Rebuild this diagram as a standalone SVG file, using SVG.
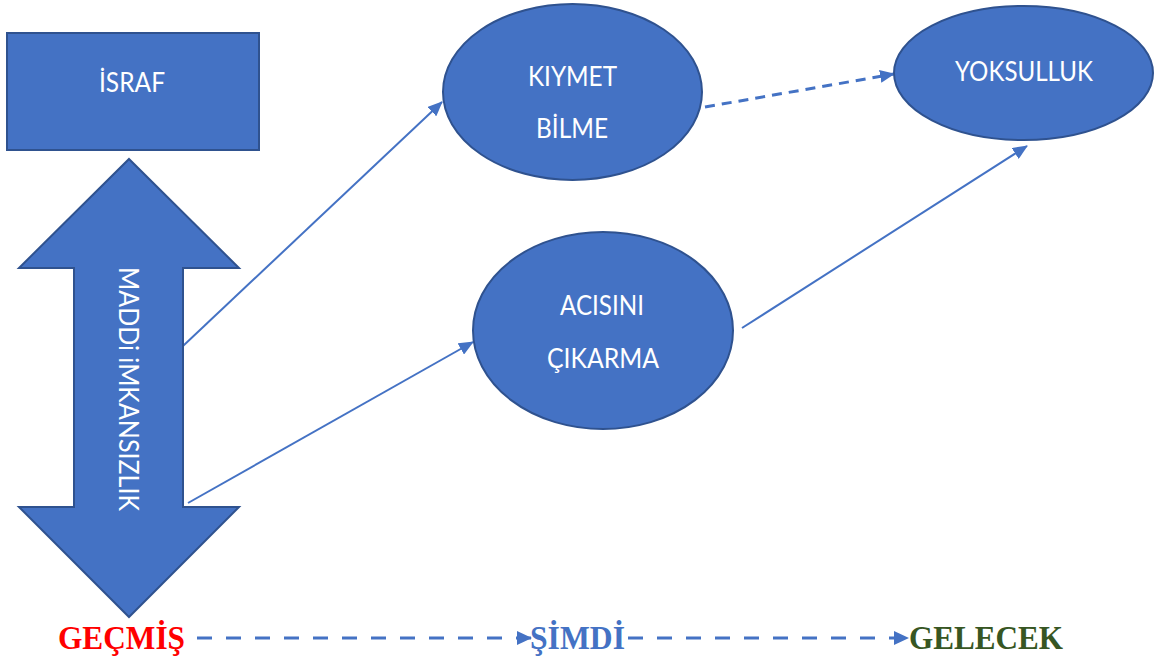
<svg xmlns="http://www.w3.org/2000/svg" width="1158" height="662" viewBox="0 0 1158 662">
  <defs>
    <style>
      .shape { fill: #4472C4; stroke: #2F528F; stroke-width: 2; }
      .lbl { fill: #FFFFFF; font-family: Lato, "Open Sans", "Liberation Sans", sans-serif; font-size: 26px; text-anchor: middle; }
      .conn { stroke: #4472C4; stroke-width: 2; fill: none; }
      .dash1 { stroke-width: 3; stroke-dasharray: 10 7; }
      .dash2 { stroke-width: 3; stroke-dasharray: 15 14; }
      .time { font-family: "Liberation Serif", "Times New Roman", serif; font-weight: bold; font-size: 33px; }
    </style>
    <marker id="ah" markerUnits="userSpaceOnUse" markerWidth="15" markerHeight="13" refX="14" refY="6.5" orient="auto">
      <path d="M0,0 L15,6.5 L0,13 z" fill="#4472C4"/>
    </marker>
    <marker id="ahs" markerUnits="userSpaceOnUse" markerWidth="15" markerHeight="14" refX="15" refY="7" orient="auto">
      <path d="M0,0 L15,7 L0,14 z" fill="#4472C4"/>
    </marker>
  </defs>

  <g id="connectors">
    <line class="conn" x1="183" y1="346" x2="442" y2="102" marker-end="url(#ah)"/>
    <line class="conn" x1="188" y1="503" x2="473" y2="342" marker-end="url(#ah)"/>
    <line class="conn dash1" x1="705" y1="107" x2="894" y2="74" marker-end="url(#ah)"/>
    <line class="conn" x1="742" y1="328" x2="1027" y2="146" marker-end="url(#ah)"/>
    <line class="conn dash2" x1="197" y1="638" x2="532" y2="638" marker-end="url(#ahs)"/>
    <line class="conn dash2" x1="628" y1="638" x2="909" y2="638" marker-end="url(#ahs)"/>
  </g>

  <g id="israf">
    <rect class="shape" x="7" y="33" width="252" height="117"/>
    <text class="lbl" x="132" y="92" textLength="66" lengthAdjust="spacingAndGlyphs">İSRAF</text>
  </g>

  <g id="maddi-imkansizlik">
    <polygon class="shape" stroke-width="1.5" points="129,159 239,268 183,268 183,507 239,507 129,617 19,507 74,507 74,268 19,268"/>
    <text class="lbl" transform="translate(119,389) rotate(90)" x="0" y="0" textLength="244" lengthAdjust="spacingAndGlyphs">MADDi iMKANSIZLIK</text>
  </g>

  <g id="kiymet-bilme">
    <ellipse class="shape" cx="572.5" cy="92" rx="129.5" ry="88"/>
    <text class="lbl" x="572.5" y="86" textLength="89" lengthAdjust="spacingAndGlyphs">KIYMET</text>
    <text class="lbl" x="572" y="138" textLength="72" lengthAdjust="spacingAndGlyphs">BİLME</text>
  </g>

  <g id="yoksulluk">
    <ellipse class="shape" cx="1023.5" cy="73" rx="129.5" ry="67"/>
    <text class="lbl" x="1024" y="81" textLength="138" lengthAdjust="spacingAndGlyphs">YOKSULLUK</text>
  </g>

  <g id="acisini-cikarma">
    <ellipse class="shape" cx="603" cy="330.5" rx="130" ry="98.5"/>
    <text class="lbl" x="602" y="315" textLength="84" lengthAdjust="spacingAndGlyphs">ACISINI</text>
    <text class="lbl" x="603" y="368" textLength="112" lengthAdjust="spacingAndGlyphs">ÇIKARMA</text>
  </g>

  <g id="gecmis">
    <text class="time" x="58" y="649" fill="#FF0000" textLength="127" lengthAdjust="spacingAndGlyphs">GEÇMİŞ</text>
  </g>
  <g id="simdi">
    <text class="time" x="530" y="649" fill="#4472C4" textLength="95" lengthAdjust="spacingAndGlyphs">ŞİMDİ</text>
  </g>
  <g id="gelecek">
    <text class="time" x="909" y="649" fill="#375623" textLength="154" lengthAdjust="spacingAndGlyphs">GELECEK</text>
  </g>
</svg>
